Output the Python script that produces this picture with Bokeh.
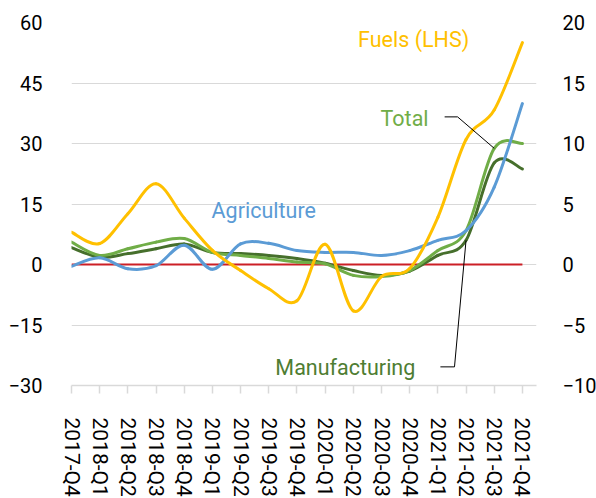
from bokeh.plotting import figure
from bokeh.models import Range1d, LinearAxis, ColumnDataSource, FixedTicker
from bokeh.embed import file_html
from bokeh.resources import INLINE
from bokeh.core.properties import value

quarters = ["2017-Q4", "2018-Q1", "2018-Q2", "2018-Q3", "2018-Q4", "2019-Q1", "2019-Q2",
            "2019-Q3", "2019-Q4", "2020-Q1", "2020-Q2", "2020-Q3", "2020-Q4", "2021-Q1",
            "2021-Q2", "2021-Q3", "2021-Q4"]
fuels = [8.0, 5.2, 12.6, 20.0, 11.5, 3.5, -1.5, -6.0, -9.0, 5.0, -11.5, -3.0, -1.0, 11.7, 31.0, 38.3, 55.0]
total = [1.85, 0.75, 1.3, 1.85, 2.15, 1.0, 0.75, 0.5, 0.2, 0.05, -0.9, -1.0, -0.5, 1.15, 2.8, 9.6, 10.0]
manufacturing = [1.4, 0.6, 0.9, 1.3, 1.7, 1.0, 0.9, 0.75, 0.5, 0.1, -0.5, -0.9, -0.55, 0.75, 2.0, 8.4, 7.9]
agriculture = [-0.15, 0.55, -0.35, -0.1, 1.6, -0.4, 1.7, 1.75, 1.15, 1.0, 1.0, 0.75, 1.15, 2.0, 2.8, 6.4, 13.3]

left_ticks = [-30, -15, 0, 15, 30, 45, 60]
right_ticks = [-10, -5, 0, 5, 10, 15, 20]

FONT = "Roboto"
C_FUEL = "#FFC000"
C_TOTAL = "#70AD47"
C_MANU = "#466F2C"
C_AGRI = "#5B9BD5"

xs = list(range(len(quarters)))

p = figure(frame_width=465, frame_height=363, output_backend="svg", toolbar_location=None,
           x_range=Range1d(0, 16.5), y_range=Range1d(-30, 60),
           min_border_left=71, min_border_right=0, min_border_top=22, min_border_bottom=0)
p.outline_line_color = None
p.background_fill_color = "white"
p.border_fill_color = "white"
p.extra_y_ranges = {"right": Range1d(-10, 20)}

p.xgrid.grid_line_color = None
p.ygrid.grid_line_color = "#D9D9D9"
p.ygrid.grid_line_width = 1
p.ygrid.ticker = FixedTicker(ticks=left_ticks)

# left axis
ya = p.yaxis[0]
ya.ticker = FixedTicker(ticks=left_ticks)
ya.axis_line_color = None
ya.major_tick_line_color = None
ya.minor_tick_line_color = None
ya.major_tick_out = 0
ya.major_tick_in = 0
ya.major_label_standoff = 29
ya.major_label_text_font = FONT
ya.major_label_text_font_size = "20px"
ya.major_label_text_color = "#000000"

# right axis
ra = LinearAxis(y_range_name="right", ticker=FixedTicker(ticks=right_ticks))
ra.axis_line_color = None
ra.major_tick_line_color = None
ra.minor_tick_line_color = None
ra.major_tick_out = 0
ra.major_tick_in = 0
ra.major_label_standoff = 26
ra.major_label_text_font = FONT
ra.major_label_text_font_size = "20px"
ra.major_label_text_color = "#000000"
p.add_layout(ra, "right")

# bottom axis
xa = p.xaxis[0]
xa.ticker = FixedTicker(ticks=xs)
xa.major_label_overrides = {i: q for i, q in enumerate(quarters)}
xa.major_label_orientation = "vertical"
xa.axis_line_color = "#D9D9D9"
xa.axis_line_width = 1.5
xa.major_tick_line_color = "#D9D9D9"
xa.major_tick_line_width = 1.5
xa.major_tick_out = 8
xa.major_tick_in = 0
xa.minor_tick_line_color = None
xa.major_label_standoff = 24
xa.major_label_text_font = FONT
xa.major_label_text_font_size = "21px"
xa.major_label_text_color = "#000000"

# zero line
p.line([xs[0], xs[-1]], [0, 0], line_color="#CC1F26", line_width=2)


def smooth_source(x, y):
    n = len(x)
    d = dict(x0=[], y0=[], x1=[], y1=[], cx0=[], cy0=[], cx1=[], cy1=[])
    for i in range(n - 1):
        a = i - 1 if i > 0 else i
        b = i + 2 if i + 2 < n else i + 1
        d["x0"].append(x[i]); d["y0"].append(y[i])
        d["x1"].append(x[i + 1]); d["y1"].append(y[i + 1])
        d["cx0"].append(x[i] + (x[i + 1] - x[a]) / 6)
        d["cy0"].append(y[i] + (y[i + 1] - y[a]) / 6)
        d["cx1"].append(x[i + 1] - (x[b] - x[i]) / 6)
        d["cy1"].append(y[i + 1] - (y[b] - y[i]) / 6)
    return ColumnDataSource(d)


def draw(series, color, rng=None):
    kw = dict(source=smooth_source(xs, series), x0="x0", y0="y0", x1="x1", y1="y1",
              cx0="cx0", cy0="cy0", cx1="cx1", cy1="cy1",
              line_color=color, line_width=3, line_cap="round", line_join="round")
    if rng:
        kw["y_range_name"] = rng
    p.bezier(**kw)


draw(manufacturing, C_MANU, "right")
draw(total, C_TOTAL, "right")
draw(agriculture, C_AGRI, "right")
draw(fuels, C_FUEL)

# leader lines (right-axis units)
p.line([13.24, 13.70, 15], [12.2, 12.2, total[15]], line_color="black", line_width=1,
       y_range_name="right")
p.line([13.09, 13.59, 14], [-8.46, -8.46, manufacturing[14]], line_color="black", line_width=1,
       y_range_name="right")

# labels
p.text(x=[12.14], y=[55.7], text=["Fuels (LHS)"], text_color=C_FUEL, text_font=value(FONT),
       text_font_size="21.5px", text_align="center", text_baseline="middle")
p.text(x=[4.97], y=[13.4], text=["Agriculture"], text_color=C_AGRI, text_font=value(FONT),
       text_font_size="21.5px", text_align="left", text_baseline="middle")
p.text(x=[12.67], y=[12.1], text=["Total"], text_color=C_TOTAL, text_font=value(FONT),
       text_font_size="21.5px", text_align="right", text_baseline="middle", y_range_name="right")
p.text(x=[12.2], y=[-8.54], text=["Manufacturing"], text_color="#4E7D32", text_font=value(FONT),
       text_font_size="21.5px", text_align="right", text_baseline="middle", y_range_name="right")

open("out.html", "w").write(file_html(p, INLINE))
